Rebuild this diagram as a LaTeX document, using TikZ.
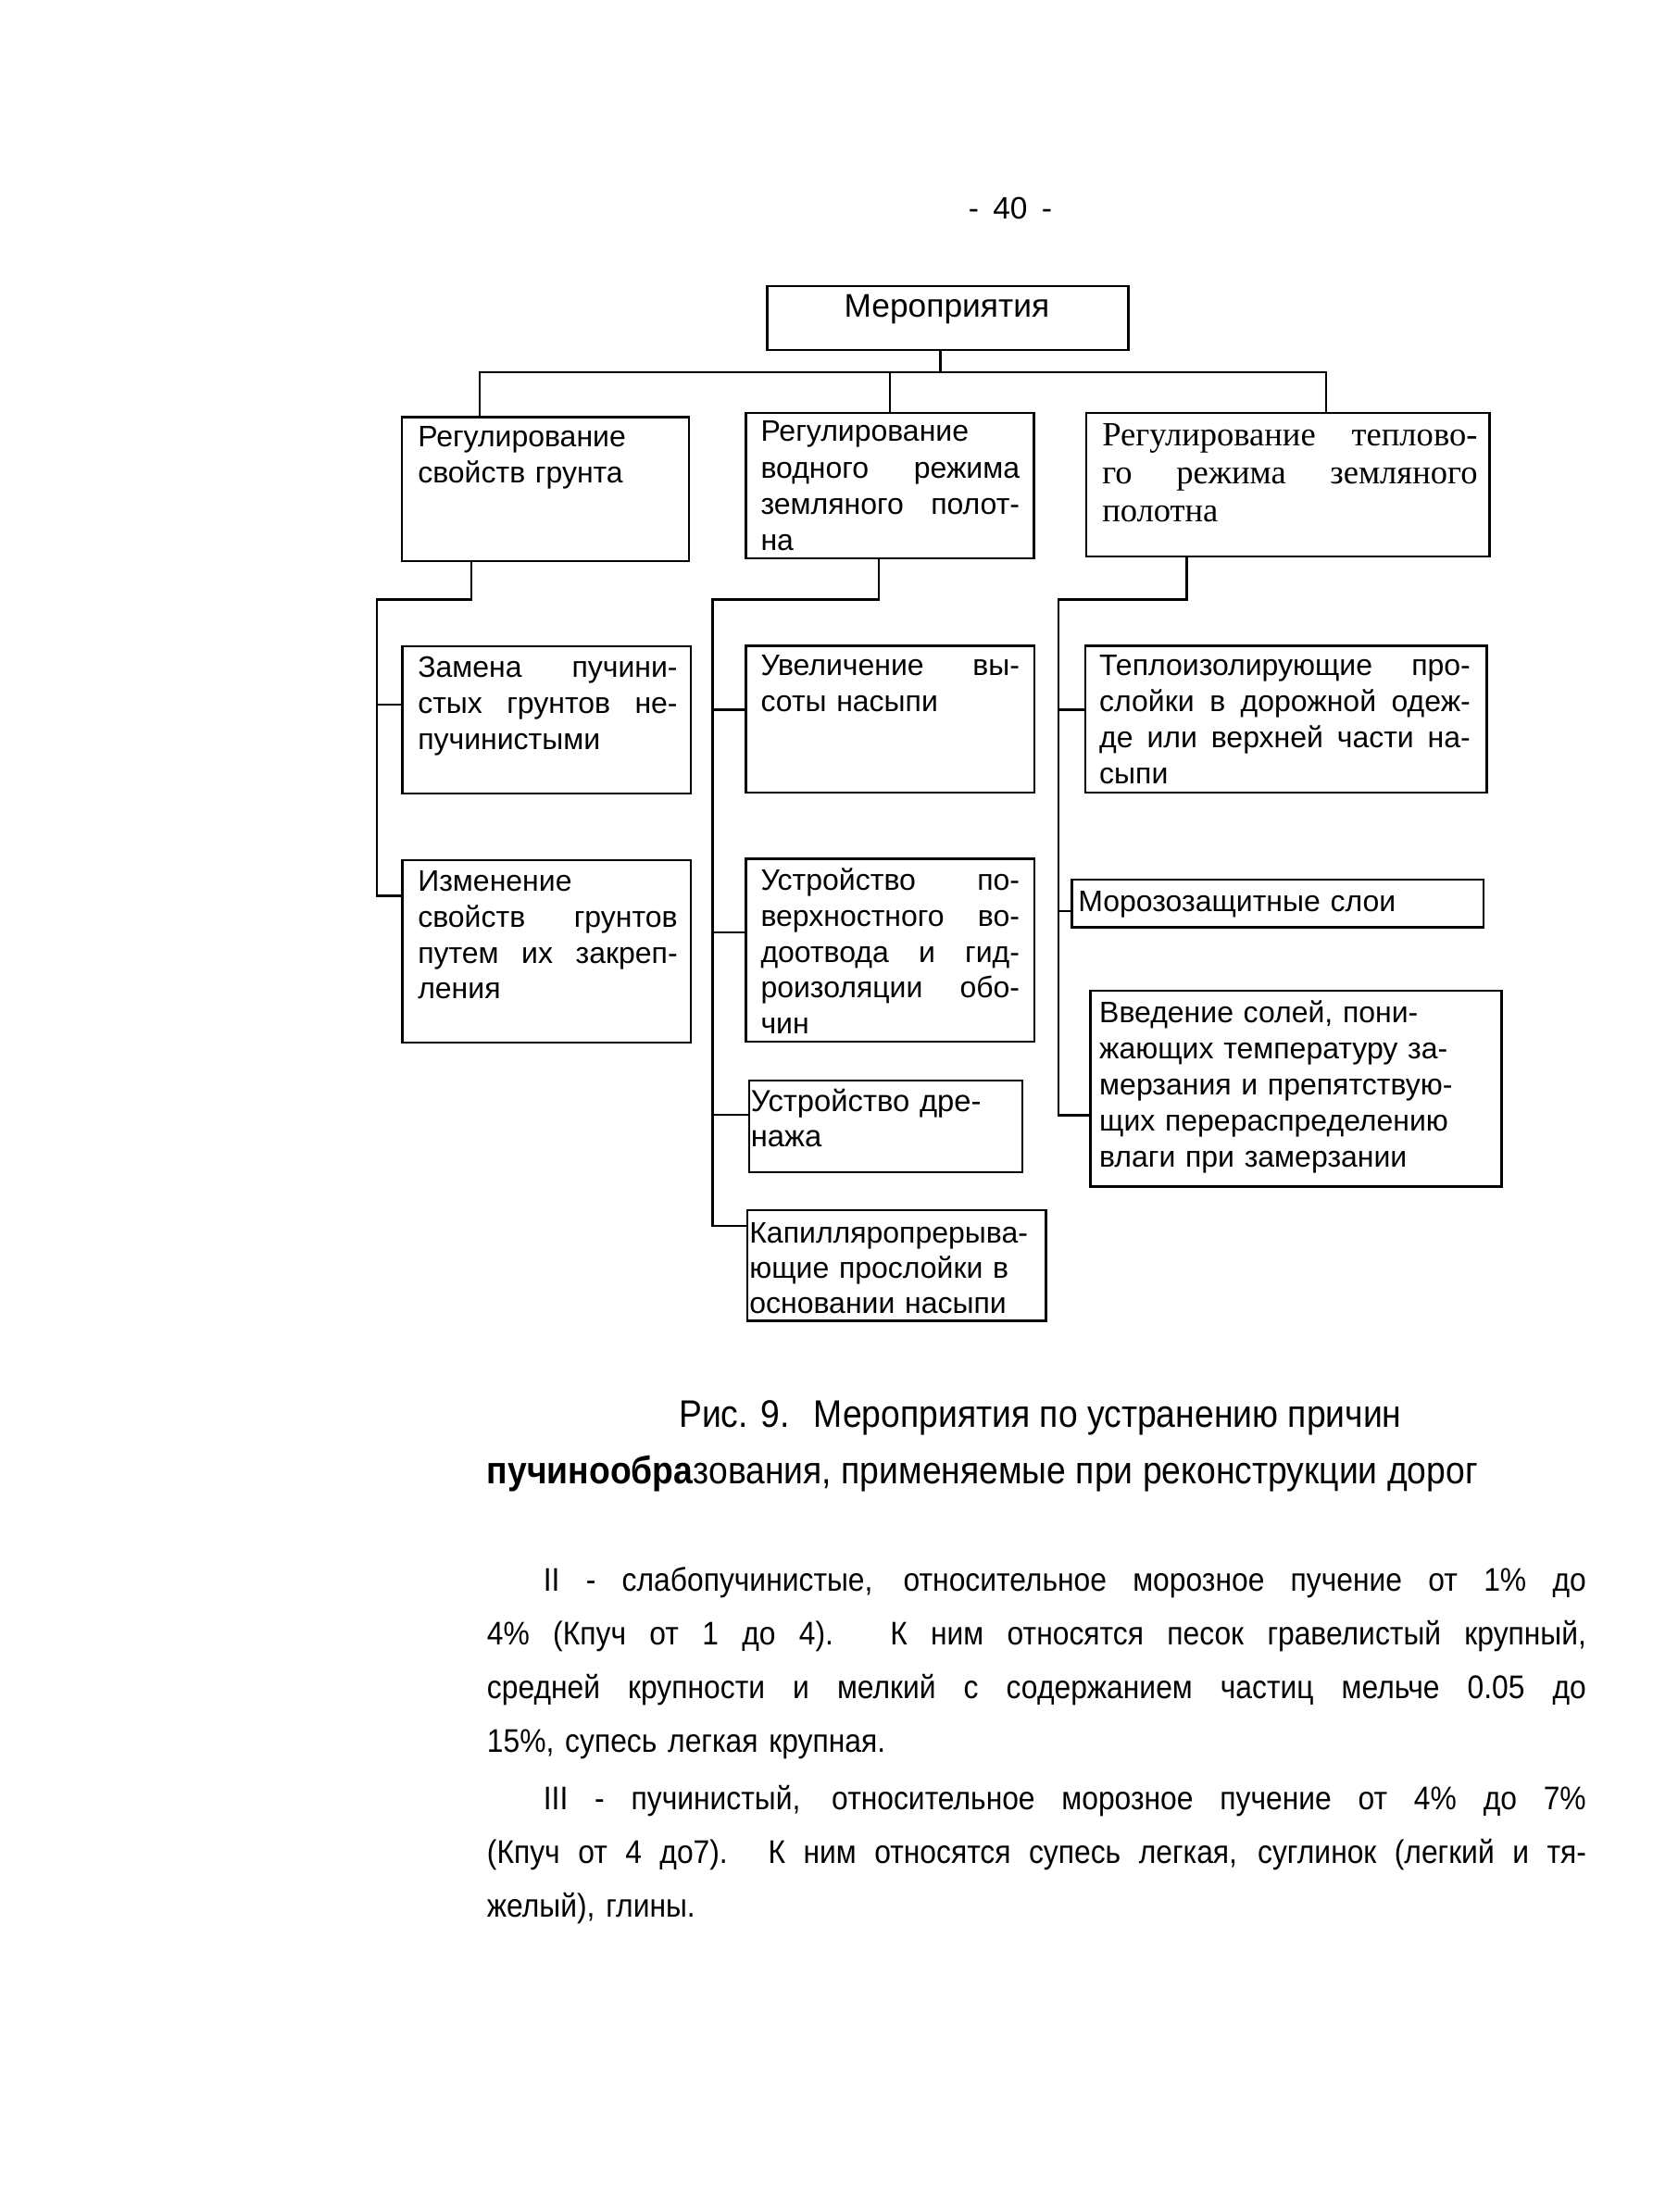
\documentclass[tikz,border=0pt]{standalone}
\usepackage{fontspec}
\setmainfont{Liberation Sans}
\newfontfamily\serifR{Liberation Serif}
\newfontfamily\narrowf{Liberation Sans}[FakeStretch=0.9]
\usetikzlibrary{calc}
\newcommand{\J}[1]{\makebox[\linewidth][s]{\spaceskip=0pt\xspaceskip=0pt\relax #1}\par}
\newcommand{\JW}[2]{\makebox[#1][s]{\spaceskip=0pt\xspaceskip=0pt\relax #2}\par}
\tikzset{
  boxx/.style={draw, line width=1.5pt, inner sep=0pt, anchor=north west},
  txt/.style={anchor=base west, inner sep=0pt, align=left, font=\fontsize{21}{25.5}\selectfont},
  link/.style={line width=1.5pt},
}
\newcommand{\bx}[5]{\node[boxx, minimum width={#4-#2}, minimum height={#5-#3}] (#1) at (#2,#3) {};}
\begin{document}
\begin{tikzpicture}[x=1pt,y=-1pt]
\useasboundingbox[fill=white] (0,0) rectangle (1189,1568);
% page number
\node[anchor=base, inner sep=0pt, font=\fontsize{22}{26}\selectfont] (pg) at (716,155) {-\hspace{10pt}40\hspace{10pt}-};
% boxes
\bx{top}{543}{202}{799}{247.5}
\bx{L1}{284}{295}{487.5}{397}
\bx{M1}{528}{292}{732}{395}
\bx{R1}{769}{292}{1055}{393.5}
\bx{L2}{284.5}{457.5}{489}{561.5}
\bx{L3}{284.5}{609}{489}{738.5}
\bx{M2}{528}{457}{732.5}{561}
\bx{M3}{528}{608}{732.5}{737.5}
\bx{M4}{530}{765}{724}{830}
\bx{M5}{529}{857}{740.5}{935.6}
\bx{R2}{768.5}{457}{1053}{561}
\bx{R3}{759}{623}{1050.5}{656.6}
\bx{R4}{772}{701.5}{1063.5}{840.4}
% texts
\node[anchor=base, inner sep=0pt, font=\fontsize{23.2}{27}\selectfont] (ttop) at (671,224.5) {Мероприятия};
\node[txt, text width=184pt] (tL1) at (296,316.5) {Регулирование\par свойств грунта};
\node[txt, text width=183.5pt, font=\fontsize{21}{25.7}\selectfont] (tM1) at (539,313) {Регулирование\par\J{водного режима}\J{земляного полот-}на};
\node[txt, text width=266pt, font=\serifR\fontsize{24}{27}\selectfont] (tR1) at (781,316) {\J{Регулирование теплово-}\J{го режима земляного}полотна};
\node[txt, text width=184pt] (tL2) at (296,480) {\J{Замена пучини-}\J{стых грунтов не-}пучинистыми};
\node[txt, text width=184pt] (tL3) at (296,631.6) {Изменение\par\J{свойств грунтов}\J{путем их закреп-}ления};
\node[txt, text width=183.5pt] (tM2) at (539,479) {\J{Увеличение вы-}соты насыпи};
\node[txt, text width=183.5pt] (tM3) at (539,631) {\J{Устройство по-}\J{верхностного во-}\J{доотвода и гид-}\J{роизоляции обо-}чин};
\node[txt, text width=190pt, font=\fontsize{21.5}{25}\selectfont] (tM4) at (532,788) {Устройство дре-\par нажа};
\node[txt, text width=210pt, font=\fontsize{21}{25.1}\selectfont] (tM5) at (531,881) {Капилляропрерыва-\par ющие прослойки в\par основании насыпи};
\node[txt, text width=263pt, font=\fontsize{21}{25.6}\selectfont] (tR2) at (779,478.5) {\J{Теплоизолирующие про-}\J{слойки в дорожной одеж-}\J{де или верхней части на-}сыпи};
\node[txt, text width=280pt] (tR3) at (764,646) {Морозозащитные слои};
\node[txt, text width=280pt, font=\fontsize{21}{25.6}\selectfont] (tR4) at (779,725) {Введение солей, пони-\par жающих температуру за-\par мерзания и препятствую-\par щих перераспределению\par влаги при замерзании};
% connectors level 1
\coordinate (b0) at (666.5,264);
\draw[link] (top.south -| b0) -- (b0);
\draw[link] ($(L1.north west)+(56,0)$) |- (b0) -| ($(R1.north west)+(171,0)$);
\draw[link] (M1.north) -- (M1.north |- b0);
% left column
\coordinate (lv) at (267,425);
\draw[link] ($(L1.south west)+(50,0)$) |- (lv) |- ($(L3.north west)+(0,26)$);
\draw[link] ($(L2.north west)+(0,42)$) -- ++(-17.5,0);
% middle column
\coordinate (mv) at (505,425);
\draw[link] ($(M1.south west)+(95,0)$) |- (mv) |- ($(M5.north west)+(0,12)$);
\draw[link] ($(M2.north west)+(0,46)$) -- ++(-23,0);
\draw[link] ($(M3.north west)+(0,53)$) -- ++(-23,0);
\draw[link] ($(M4.north west)+(0,25)$) -- ++(-25,0);
% right column
\coordinate (rv) at (750,425);
\draw[link] ($(R1.south west)+(72,0)$) |- (rv) |- ($(R4.north west)+(0,89)$);
\draw[link] ($(R2.north west)+(0,46)$) -- ++(-18.5,0);
\draw[link] ($(R3.north west)+(0,23)$) -- ++(-9,0);
% caption
\node[anchor=base west, inner sep=0pt, font=\narrowf\fontsize{27.2}{40}\selectfont] (cap1) at (481,1012) {Рис. 9.\hspace{17pt}Мероприятия по устранению причин};
\node[anchor=base west, inner sep=0pt, font=\narrowf\fontsize{27.2}{40}\selectfont] (cap2) at (345,1052) {\textbf{пучинообра}зования, применяемые при реконструкции дорог};
% body text
\node[txt, text width=779pt, font=\narrowf\fontsize{23.2}{38}\selectfont] (p1) at (345,1128) {\hspace*{40pt}\JW{739pt}{II - слабопучинистые, относительное морозное пучение от 1\% до}\J{4\% (Кпуч от 1 до 4). К ним относятся песок гравелистый крупный,}\J{средней крупности и мелкий с содержанием частиц мельче 0.05 до}15\%, супесь легкая крупная.};
\node[txt, text width=779pt, font=\narrowf\fontsize{23.2}{38}\selectfont] (p2) at (345,1283) {\hspace*{40pt}\JW{739pt}{III - пучинистый, относительное морозное пучение от 4\% до 7\%}\J{(Кпуч от 4 до7). К ним относятся супесь легкая, суглинок (легкий и тя-}желый), глины.};
\end{tikzpicture}
\end{document}
